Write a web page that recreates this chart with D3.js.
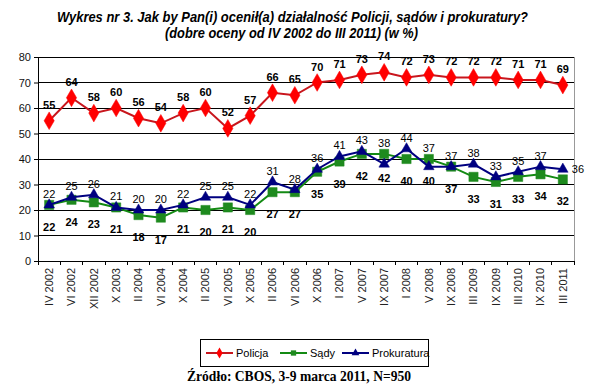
<!DOCTYPE html>
<html><head><meta charset="utf-8">
<script src="https://cdn.jsdelivr.net/npm/d3@7"></script>
<style>body{margin:0;background:#fff}svg{display:block}</style>
</head><body>
<script>
const categories = ["IV 2002","VI 2002","XII 2002","X 2003","II 2004","VI 2004","X 2004","II 2005","VI 2005","X 2005","II 2006","VI 2006","X 2006","I 2007","V 2007","IX 2007","I 2008","V 2008","IX 2008","III 2009","IX 2009","III 2010","IX 2010","III 2011"];
const policja = [55,64,58,60,56,54,58,60,52,57,66,65,70,71,73,74,72,73,72,72,72,71,71,69];
const sady = [22,24,23,21,18,17,21,20,21,20,27,27,35,39,42,42,40,40,37,33,31,33,34,32];
const prokuratura = [22,25,26,21,20,20,22,25,25,22,31,28,36,41,43,38,44,37,37,38,33,35,37,36];
const yTicks = [0,10,20,30,40,50,60,70,80];
const titleLines = ["Wykres nr 3.  Jak by Pan(i) ocenił(a) działalność Policji, sądów i prokuratury?","(dobre oceny od IV 2002 do III 2011) (w %)"];
const sourceText = "Źródło: CBOS, 3-9 marca 2011, N=950";

const W=600,H=390;
const svg=d3.select("body").append("svg").attr("width",W).attr("height",H);
const L=38,R=574,T=57,B=261;
const x=d3.scaleBand().domain(categories).range([L,R]);
const y=d3.scaleLinear().domain([0,80]).range([B,T]);
const cx=d=>x(d)+x.bandwidth()/2;
const lf="'Liberation Sans',Arial,sans-serif";

// title
const tpos=[{x:57,y:22,w:471},{x:165,y:38,w:253}];
svg.selectAll("text.title").data(titleLines).join("text")
  .attr("x",(d,i)=>tpos[i].x).attr("y",(d,i)=>tpos[i].y)
  .attr("textLength",(d,i)=>tpos[i].w).attr("lengthAdjust","spacingAndGlyphs")
  .attr("font-family",lf)
  .attr("font-weight","bold").attr("font-style","italic").attr("font-size",14.5).attr("fill","#000").text(d=>d);

// gridlines
svg.append("g").selectAll("line").data(yTicks.filter(v=>v>0)).join("line")
  .attr("x1",L).attr("x2",R).attr("y1",d=>y(d)).attr("y2",d=>y(d)).attr("stroke","#000").attr("stroke-width",1).attr("shape-rendering","crispEdges");
// right frame
svg.append("line").attr("x1",R).attr("x2",R).attr("y1",T).attr("y2",B).attr("stroke","#999").attr("shape-rendering","crispEdges");

// y axis
const ya=svg.append("g").attr("transform",`translate(${L},0)`).call(d3.axisLeft(y).tickValues(yTicks).tickSize(4).tickPadding(3));
ya.select(".domain").attr("stroke","#000");
ya.selectAll("text").attr("font-family",lf).attr("font-size",11).attr("fill","#111");
// x axis
const xa=svg.append("g").attr("transform",`translate(0,${B})`).call(d3.axisBottom(x).tickSize(0));
xa.select(".domain").attr("stroke","#000");
svg.append("g").selectAll("line").data(categories.concat(["_end"])).join("line")
  .attr("x1",(d,i)=>L+i*x.step()).attr("x2",(d,i)=>L+i*x.step()).attr("y1",B).attr("y2",B+4).attr("stroke","#000").attr("shape-rendering","crispEdges");
xa.selectAll("text").attr("font-family",lf).attr("font-size",11).attr("fill","#222")
  .attr("transform","rotate(-90)").attr("text-anchor","end").attr("x",-7).attr("y",0).attr("dy","0.35em");

function series(vals,lineColor,markerColor,shape,size){
  const data=categories.map((c,i)=>({c,v:vals[i],i}));
  svg.append("path").datum(data).attr("fill","none").attr("stroke",lineColor).attr("stroke-width",2)
    .attr("d",d3.line().x(d=>cx(d.c)).y(d=>y(d.v)));
  svg.append("g").selectAll("path").data(data).join("path")
    .attr("transform",d=>`translate(${cx(d.c)},${y(d.v)})`)
    .attr("d",d3.symbol().type(shape).size(size)).attr("fill",markerColor).attr("stroke",markerColor).attr("stroke-width",0.5);
  return data;
}
const pd=series(policja,"#c8161d","#ff0000",d3.symbolDiamond,90);
const sd=series(sady,"#138a13","#1e8a1e",d3.symbolSquare,85);
const kd=series(prokuratura,"#000080","#000080",d3.symbolTriangle,48);

svg.append("g").selectAll("text").data(pd).join("text")
  .attr("x",d=>cx(d.c)).attr("y",d=>y(d.v)-12).attr("text-anchor","middle")
  .attr("font-family",lf).attr("font-weight","bold").attr("font-size",11).text(d=>d.v);
svg.append("g").selectAll("text").data(sd).join("text")
  .attr("x",d=>cx(d.c)).attr("y",d=>Math.max(y(d.v)+22,y(prokuratura[d.i])+14)+4).attr("text-anchor","middle")
  .attr("font-family",lf).attr("font-weight","bold").attr("font-size",11).text(d=>d.v);
const last=kd.length-1;
svg.append("g").selectAll("text").data(kd).join("text")
  .attr("x",d=>d.i===last?cx(d.c)+9:cx(d.c))
  .attr("y",d=>d.i===last?y(d.v)+4:Math.min(y(d.v),y(sady[d.i]))-7)
  .attr("text-anchor",d=>d.i===last?"start":"middle")
  .attr("font-family",lf).attr("font-size",11).text(d=>d.v);

// legend
const LX=200, LY=339;
const lg=svg.append("g");
lg.append("rect").attr("x",LX+0.5).attr("y",LY+0.5).attr("width",228).attr("height",27).attr("fill","#fff").attr("stroke","#000");
const items=[{n:"Policja",lc:"#c8161d",mc:"#ff0000",s:d3.symbolDiamond,sz:34,dx:6},{n:"Sądy",lc:"#138a13",mc:"#1e8a1e",s:d3.symbolSquare,sz:28,dx:80},{n:"Prokuratura",lc:"#000080",mc:"#000080",s:d3.symbolTriangle,sz:26,dx:142}];
items.forEach(it=>{
  const ix=LX+it.dx, iy=LY+14;
  lg.append("line").attr("x1",ix).attr("x2",ix+27).attr("y1",iy).attr("y2",iy).attr("stroke",it.lc).attr("stroke-width",2);
  lg.append("path").attr("transform",`translate(${ix+13.5},${iy})`).attr("d",d3.symbol().type(it.s).size(it.sz)).attr("fill",it.mc);
  lg.append("text").attr("x",ix+30).attr("y",iy+4).attr("font-family",lf).attr("font-size",11).text(it.n);
});

svg.append("text").attr("x",187).attr("y",381)
  .attr("textLength",224).attr("lengthAdjust","spacingAndGlyphs")
  .attr("font-family","'Liberation Serif','Times New Roman',serif").attr("font-weight","bold").attr("font-size",14).text(sourceText);
</script>
</body></html>
